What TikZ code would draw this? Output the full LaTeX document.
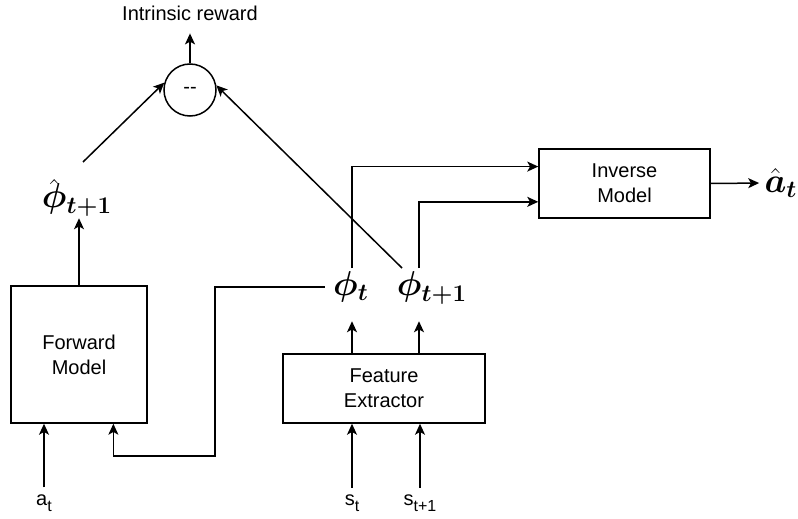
\documentclass[tikz,border=0pt]{standalone}
\usepackage{amsmath,bm}
\usepackage{fontspec}
\setmainfont{Liberation Sans}
\usetikzlibrary{arrows.meta,calc}

% subscript in the label font, set a little lower and larger than \textsubscript
\newcommand{\lowsub}[1]{\raisebox{-3pt}{\fontsize{8}{8}\selectfont #1}}
% bold phi with its hat sitting close to the letter
\newcommand{\phihatsym}{\hat{\vphantom{\rule{0pt}{0.56em}}\smash{\bm{\phi}}}}

\begin{document}
\begin{tikzpicture}[x=0.5pt,y=-0.5pt,
  every node/.style={font=\fontsize{10}{12.5}\selectfont},
  wire/.style={line width=0.75pt},
  arr/.style={wire,-{Stealth[length=5.5pt,width=5pt,inset=1.4pt]}},
  block/.style={draw,wire,align=center,inner sep=0pt},
  mathlbl/.style={font=\fontsize{17}{19}\selectfont,inner sep=0pt}]
\useasboundingbox (0,0) rectangle (798,519);

% blocks
\node[block,minimum width=68pt,minimum height=68.5pt] (fwd) at (79,354.5) {Forward\\Model};
\node[block,minimum width=101pt,minimum height=34.5pt] (feat) at (384,388.5) {Feature\\Extractor};
\node[block,minimum width=85.5pt,minimum height=34.5pt] (inv) at (624.5,183.5) {Inverse\\Model};
\node[circle,draw,wire,minimum size=26pt,inner sep=0pt] (diff) at (190,90) {{-}{-}};

% labels
\node (reward) at (190,13) {Intrinsic reward};
\node[mathlbl] (phihat) at (77,198) {$\phihatsym_{\bm{t+1}}$};
\node[mathlbl] (phit) at (351,287) {$\bm{\phi_t}$};
\node[mathlbl] (phitt) at (432,288) {$\bm{\phi_{t+1}}$};
\node[mathlbl] (ahat) at (781,183) {$\bm{\hat{a}_t}$};
\node (at) at (44,503) {a\lowsub{t}};
\node (st) at (352,503) {s\lowsub{t}};
\node (stt) at (420,503) {s\lowsub{t+1}};

% connection points
\coordinate (hatTop) at (83,162);
\coordinate (phitTop) at (352,268);
\coordinate (phittTop) at (419,268);
\coordinate (phittDiag) at (402,268);
\coordinate (invIn1) at ($(inv.north west)!0.26!(inv.south west)$);
\coordinate (invIn2) at ($(inv.north west)!0.76!(inv.south west)$);
\coordinate (fwdIn) at ($(fwd.south west)!0.75!(fwd.south east)$);
\coordinate (bend1) at (215,456);

% inputs
\draw[arr] (at.north) -- (at.north |- fwd.south);
\draw[arr] (st.north) -- (st.north |- feat.south);
\draw[arr] (stt.north) -- (stt.north |- feat.south);

% feature extractor outputs
\draw[arr] (feat.north -| phitTop) -- ++(0,-32);
\draw[arr] (feat.north -| phittTop) -- ++(0,-32);

% forward model path
\draw[arr,shorten <=4pt] (phit.west) -| (bend1) -| (fwdIn);
\draw[arr] (fwd.north) -- ++(0,-67);

% inverse model path
\draw[arr] (phitTop) |- (invIn1);
\draw[arr] (phittTop) |- (invIn2);
\draw[arr,shorten >=2.5pt] (inv.east) -- (ahat.west);

% intrinsic reward
\draw[arr] (hatTop) -- (diff.164);
\draw[arr] (phittDiag) -- (diff.10);
\draw[arr,shorten >=3pt] (diff.north) -- (reward.south);
\end{tikzpicture}
\end{document}
